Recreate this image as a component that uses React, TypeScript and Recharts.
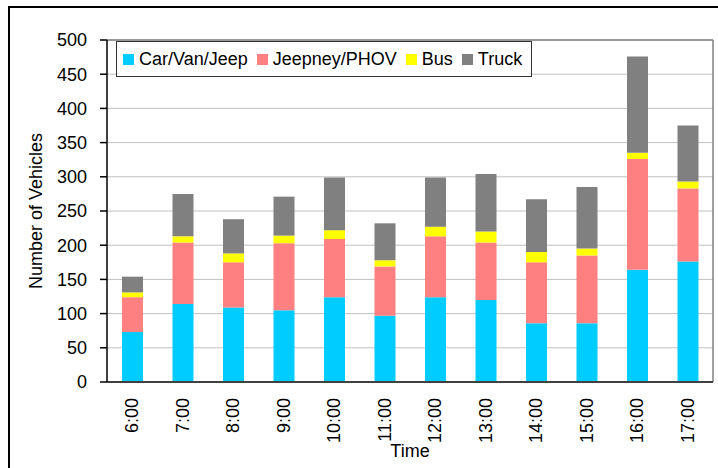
import { BarChart, Bar, XAxis, YAxis, CartesianGrid, Legend, ReferenceLine } from 'recharts';

const times = ['6:00', '7:00', '8:00', '9:00', '10:00', '11:00', '12:00', '13:00', '14:00', '15:00', '16:00', '17:00'];
const carVanJeep = [73, 114, 109, 105, 124, 97, 124, 120, 86, 86, 164, 176];
const jeepneyPhov = [51, 90, 66, 98, 85, 72, 89, 84, 89, 99, 162, 107];
const bus = [7, 9, 13, 11, 13, 9, 14, 16, 15, 10, 9, 10];
const truck = [23, 62, 50, 57, 77, 54, 72, 84, 77, 90, 141, 82];
const yTicks = [0, 50, 100, 150, 200, 250, 300, 350, 400, 450, 500];

const series = [
  { key: 'car', name: 'Car/Van/Jeep', color: '#00CCFF' },
  { key: 'jeepney', name: 'Jeepney/PHOV', color: '#FF8080' },
  { key: 'bus', name: 'Bus', color: '#FFFF00' },
  { key: 'truck', name: 'Truck', color: '#808080' },
];

const data = times.map((t, i) => ({
  time: t,
  idx: i,
  car: carVanJeep[i],
  jeepney: jeepneyPhov[i],
  bus: bus[i],
  truck: truck[i],
}));

const font = '"Liberation Sans", Arial, sans-serif';

const TimeTick = ({ x, y, payload }: any) => (
  <text
    x={x}
    y={y + 15}
    transform={`rotate(-90 ${x} ${y + 15})`}
    textAnchor="end"
    dominantBaseline="central"
    fontSize={18}
    fontFamily={font}
    fill="#000"
  >
    {payload.value}
  </text>
);

const renderLegend = () => (
  <div
    style={{
      display: 'flex',
      alignItems: 'center',
      height: 34,
      border: '1px solid #333',
      padding: '0 9px 0 6px',
      background: '#fff',
      fontFamily: font,
      fontSize: 18,
      color: '#000',
      whiteSpace: 'nowrap',
    }}
  >
    {series.map((s, i) => (
      <span key={s.key} style={{ display: 'flex', alignItems: 'center', marginRight: i < series.length - 1 ? 9 : 0 }}>
        <span style={{ width: 11, height: 11, background: s.color, marginRight: 5, display: 'inline-block' }} />
        {s.name}
      </span>
    ))}
  </div>
);

export default function App() {
  return (
    <div style={{ position: 'fixed', left: 0, top: 0, width: 718, height: 468, overflow: 'hidden', background: '#fff' }}>
      <div
        style={{
          position: 'absolute',
          left: 8,
          top: 6,
          width: 760,
          height: 520,
          borderLeft: '2px solid #000',
          borderTop: '2px solid #000',
        }}
      />
      <div style={{ position: 'absolute', left: 0, top: 0 }}>
        <BarChart
          width={718}
          height={468}
          data={data}
          margin={{ top: 40, right: 5, bottom: 0, left: 0 }}
          barSize={21}
          style={{ fontFamily: font }}
        >
          <CartesianGrid horizontal vertical={false} stroke="#C0C0C0" xAxisId="a_edge" />
          <XAxis
            xAxisId="a_edge"
            type="number"
            dataKey="idx"
            domain={[0, 12]}
            ticks={[0, 1, 2, 3, 4, 5, 6, 7, 8, 9, 10, 11, 12]}
            tick={false}
            tickSize={6}
            height={1}
            stroke="#404040"
            strokeWidth={2}
            allowDataOverflow
          />
          <XAxis
            xAxisId="b_cat"
            dataKey="time"
            axisLine={false}
            tickLine={false}
            tickSize={0}
            tickMargin={0}
            height={85}
            interval={0}
            tick={<TimeTick />}
            label={{ value: 'Time', position: 'insideBottom', offset: 11, fontSize: 18, fill: '#000', fontFamily: font }}
          />
          <YAxis
            domain={[0, 500]}
            ticks={yTicks}
            width={107}
            tickSize={7}
            tickMargin={13}
            stroke="#000"
            strokeWidth={1.5}
            tick={{ fontSize: 18, fill: '#000', fontFamily: font }}
            label={{ value: 'Number of Vehicles', angle: -90, position: 'center', dx: -18, fontSize: 18, fill: '#000', fontFamily: font }}
          />
          <ReferenceLine y={500} xAxisId="a_edge" stroke="#808080" strokeWidth={1.5} />
          <ReferenceLine x={12} xAxisId="a_edge" stroke="#808080" strokeWidth={1.5} />
          <Legend
            layout="vertical"
            align="center"
            verticalAlign="middle"
            content={renderLegend}
            wrapperStyle={{ position: 'absolute', top: 41, left: 116, width: 'auto', height: 'auto' }}
          />
          {series.map((s) => (
            <Bar key={s.key} dataKey={s.key} name={s.name} stackId="a" xAxisId="b_cat" fill={s.color} isAnimationActive={false} />
          ))}
        </BarChart>
      </div>
    </div>
  );
}
